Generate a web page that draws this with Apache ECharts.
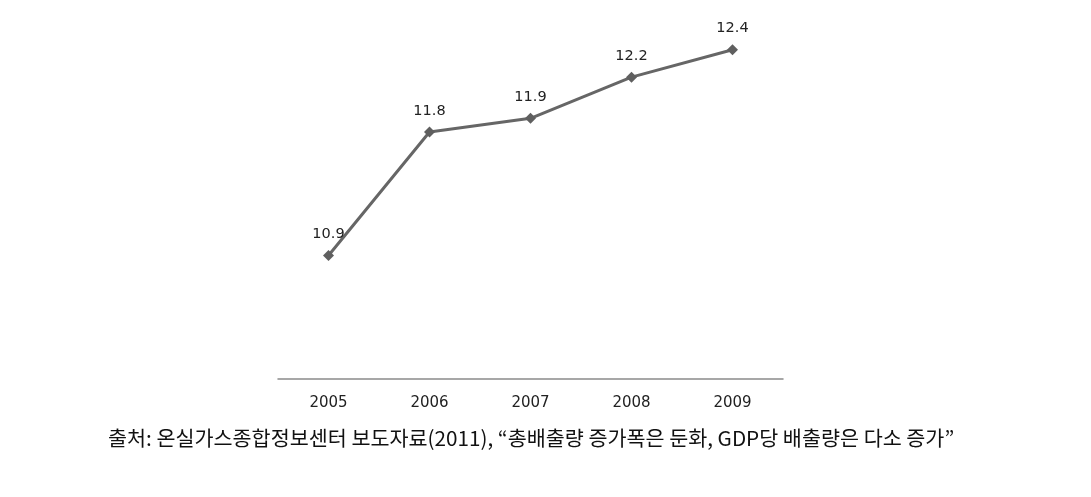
<!DOCTYPE html>
<html><head><meta charset="utf-8">
<script src="https://cdn.jsdelivr.net/npm/echarts@6/dist/echarts.min.js"></script>
<style>html,body{margin:0;padding:0;background:#fff}#c{width:1091px;height:497px}</style>
</head><body><div id="c"></div>
<script>
const categories = ['2005','2006','2007','2008','2009'];
const values = [10.9, 11.8, 11.9, 12.2, 12.4];
const sourceText = '출처: 온실가스종합정보센터 보도자료(2011), “총배출량 증가폭은 둔화, GDP당 배출량은 다소 증가”';

const chart = echarts.init(document.getElementById('c'));
chart.setOption({
  animation: false,
  backgroundColor: '#fff',
  grid: {left: 278, right: 1091-783, top: 36, bottom: 497-379},
  xAxis: {
    type: 'category', data: categories, boundaryGap: true,
    axisLine: {lineStyle: {color: '#8a8a8a', width: 1.5}},
    axisTick: {show: false},
    axisLabel: {color: '#222', fontSize: 15, margin: 17, fontFamily: 'DejaVu Sans'}
  },
  yAxis: {
    type: 'value', min: 10, max: 12.5, show: false, splitLine: {show: false}
  },
  series: [{
    type: 'line', data: values,
    symbol: 'diamond', symbolSize: 11,
    lineStyle: {color: '#666', width: 3},
    itemStyle: {color: '#5f5f5f'},
    label: {show: true, position: 'top', distance: 8, color: '#222', fontSize: 14.5, fontFamily: 'DejaVu Sans'}
  }],
  graphic: [{
    type: 'text', left: 108, top: 428,
    style: {text: sourceText, fontSize: 20.7, fill: '#111', fontFamily: 'Noto Sans CJK KR'}
  }]
});
</script></body></html>
